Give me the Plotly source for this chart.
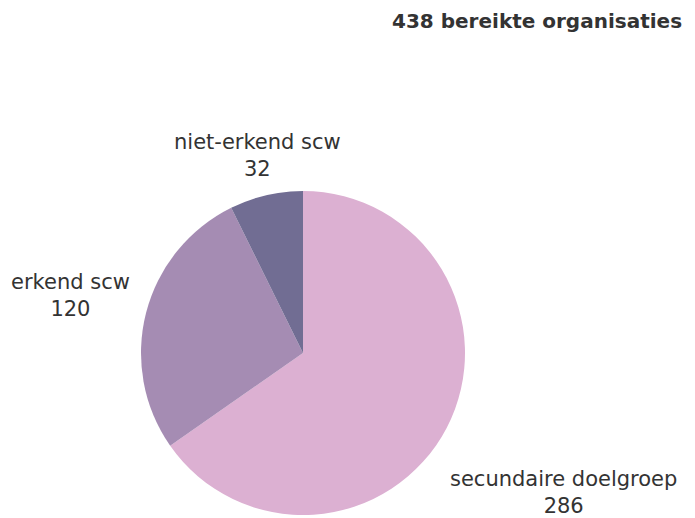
import plotly.graph_objects as go

labels = ['secundaire doelgroep', 'erkend scw', 'niet-erkend scw']
values = [286, 120, 32]
colors = ['#dcb0d2', '#a58cb3', '#716d93']
title = '438 bereikte organisaties'

W, H = 695, 518
OFF = 8  # default body margin of the html page
cx, cy, r = 303 - OFF, 353 - OFF, 162
FONT = 'DejaVu Sans'

fig = go.Figure(go.Pie(
    labels=labels,
    values=values,
    sort=False,
    direction='clockwise',
    rotation=0,
    marker=dict(colors=colors, line=dict(width=0)),
    textinfo='none',
    showlegend=False,
    hoverinfo='label+value',
    domain=dict(x=[(cx - r) / W, (cx + r) / W],
                y=[(H - cy - r) / H, (H - cy + r) / H]),
))

# label block centres (pixels, as seen on screen)
label_pos = [(563, 492), (70, 295), (257, 155)]
for lab, val, (px, py) in zip(labels, values, label_pos):
    fig.add_annotation(text=f'{lab}<br>{val}', x=(px - OFF) / W, y=1 - (py - OFF) / H,
                       xref='paper', yref='paper', xanchor='center', yanchor='middle',
                       showarrow=False, align='center',
                       font=dict(family=FONT, size=21, color='#333333'))

fig.add_annotation(text='<b>' + title + '</b>', x=(683 - OFF) / W, y=1,
                   xref='paper', yref='paper', borderpad=0,
                   xanchor='right', yanchor='top', showarrow=False,
                   font=dict(family=FONT, size=20, color='#333333'))

fig.update_layout(width=W, height=H, margin=dict(l=0, r=0, t=0, b=0),
                  paper_bgcolor='white', plot_bgcolor='white')

fig.write_html('out.html')
